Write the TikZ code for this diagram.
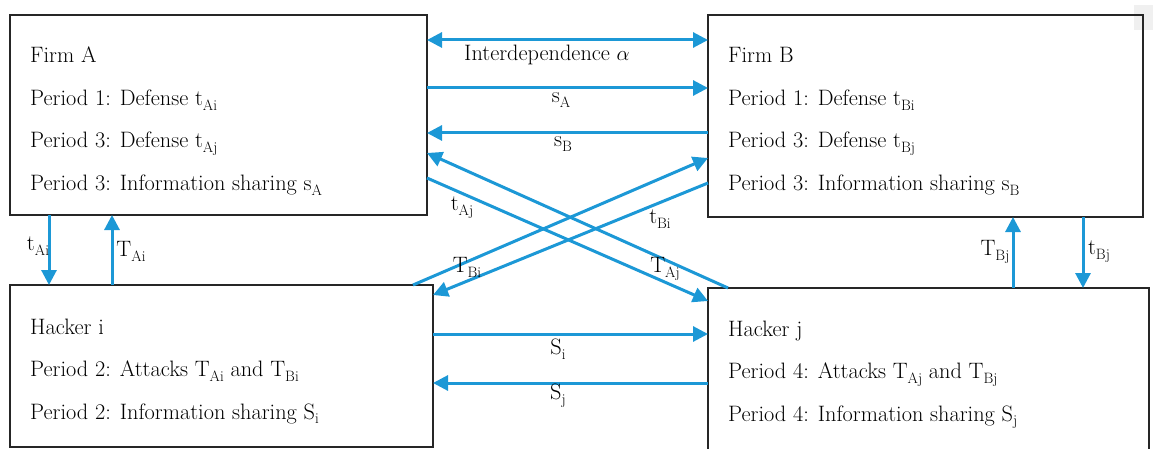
\documentclass[tikz,border=0pt]{standalone}
\usetikzlibrary{arrows.meta}
\definecolor{arrblue}{RGB}{28,152,214}
\definecolor{faint}{RGB}{240,240,240}
\newcommand\sbs[1]{\raisebox{-0.22em}{\fontsize{15pt}{15pt}\selectfont #1}}
\tikzset{
  box/.style={draw=black!85, line width=1.3pt, inner sep=0pt, outer sep=0pt, anchor=north west},
  txt/.style={anchor=base west, inner sep=0pt, font=\fontsize{22.3pt}{26pt}\selectfont},
  lbl/.style={anchor=center, inner sep=0pt, font=\fontsize{22.3pt}{26pt}\selectfont},
  arr/.style={draw=arrblue, line width=3pt, -{Triangle[length=15pt,width=15pt]}},
  darr/.style={draw=arrblue, line width=3pt, {Triangle[length=15pt,width=15pt]}-{Triangle[length=15pt,width=15pt]}}
}
\begin{document}
\begin{tikzpicture}[x=1pt,y=-1pt]
\useasboundingbox (0,0) rectangle (1153,449);
\clip (0,0) rectangle (1153,449);
\fill[faint] (1134,5) rectangle (1153,30);
% boxes
\node[box, minimum width=417pt, minimum height=200pt] (fa) at (10,15) {};
\node[box, minimum width=435pt, minimum height=202pt] (fb) at (708,15) {};
\node[box, minimum width=423pt, minimum height=162pt] (hi) at (10,285) {};
\node[box, minimum width=441pt, minimum height=190pt] (hj) at (708,288) {};
% texts Firm A
\node[txt] (fa1) at (30,63) {Firm A};
\node[txt] (fa2) at (30,105.5) {Period 1: Defense t\sbs{Ai}};
\node[txt] (fa3) at (30,148) {Period 3: Defense t\sbs{Aj}};
\node[txt] (fa4) at (30,190.5) {Period 3: Information sharing s\sbs{A}};
% texts Firm B
\node[txt] (fb1) at (728,63) {Firm B};
\node[txt] (fb2) at (728,105.5) {Period 1: Defense t\sbs{Bi}};
\node[txt] (fb3) at (728,148) {Period 3: Defense t\sbs{Bj}};
\node[txt] (fb4) at (728,190.5) {Period 3: Information sharing s\sbs{B}};
% texts Hacker i
\node[txt] (hi1) at (30,334) {Hacker i};
\node[txt] (hi2) at (30,376.5) {Period 2: Attacks T\sbs{Ai} and T\sbs{Bi}};
\node[txt] (hi3) at (30,419) {Period 2: Information sharing S\sbs{i}};
% texts Hacker j
\node[txt] (hj1) at (728,336) {Hacker j};
\node[txt] (hj2) at (728,378.5) {Period 4: Attacks T\sbs{Aj} and T\sbs{Bj}};
\node[txt] (hj3) at (728,421) {Period 4: Information sharing S\sbs{j}};
% horizontal arrows
\draw[darr] (fa.east |- 0,40) -- (fb.west |- 0,40);
\draw[arr] (fa.east |- 0,88) -- (fb.west |- 0,88);
\draw[arr] (fb.west |- 0,133) -- (fa.east |- 0,133);
\draw[arr] (hi.east |- 0,334) -- (hj.west |- 0,334);
\draw[arr] (hj.west |- 0,383) -- (hi.east |- 0,383);
% crossing arrows
\draw[arr] (fa.east |- 0,178) -- (hj.west |- 0,301);
\draw[arr] (728,0 |- hj.north) -- (fa.east |- 0,153);
\draw[arr] (413,0 |- hi.north) -- (fb.west |- 0,158);
\draw[arr] (fb.west |- 0,183) -- (hi.east |- 0,295);
% vertical arrows
\draw[arr] (49,0 |- fa.south) -- (49,0 |- hi.north);
\draw[arr] (112,0 |- hi.north) -- (112,0 |- fa.south);
\draw[arr] (1013,0 |- hj.north) -- (1013,0 |- fb.south);
\draw[arr] (1083,0 |- fb.south) -- (1083,0 |- hj.north);
% labels
\node[lbl] (l1) at (547,55) {Interdependence $\alpha$};
\node[lbl] (l2) at (561,100) {s\sbs{A}};
\node[lbl] (l3) at (563,144) {s\sbs{B}};
\node[lbl] (l4) at (462,208) {t\sbs{Aj}};
\node[lbl] (l5) at (660,219) {t\sbs{Bi}};
\node[lbl] (l6) at (467,267) {T\sbs{Bi}};
\node[lbl] (l7) at (665,269) {T\sbs{Aj}};
\node[lbl] (l8) at (38,246) {t\sbs{Ai}};
\node[lbl] (l9) at (131,251) {T\sbs{Ai}};
\node[lbl] (l10) at (995,252) {T\sbs{Bj}};
\node[lbl] (l11) at (1099,252) {t\sbs{Bj}};
\node[lbl] (l12) at (558,349) {S\sbs{i}};
\node[lbl] (l13) at (558,396) {S\sbs{j}};
\end{tikzpicture}
\end{document}
